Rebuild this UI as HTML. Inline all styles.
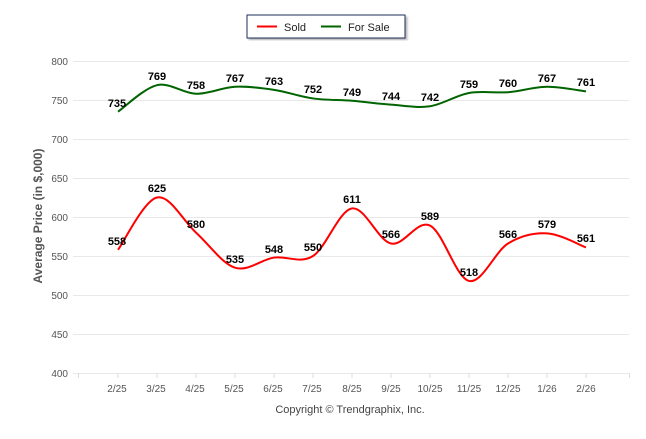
<!DOCTYPE html>
<html><head><meta charset="utf-8"><style>
body{margin:0;background:#fff;width:646px;height:434px;overflow:hidden}
svg{font-family:"Liberation Sans",Arial,sans-serif}
.t{font-size:10px;fill:#555;text-anchor:end}
.x{font-size:10px;fill:#555;text-anchor:middle}
.l{font-size:11px;font-weight:bold;fill:#000;text-anchor:middle}
</style></head><body>
<svg width="646" height="434" viewBox="0 0 646 434">
<defs><filter id="sh"><feDropShadow dx="2" dy="2" stdDeviation="1" flood-color="#888" flood-opacity="0.6"/></filter></defs>
<rect x="247" y="15" width="158" height="23" fill="#fff" stroke="#1f2f5a" stroke-width="1" filter="url(#sh)"/>
<line x1="257" y1="26.5" x2="277" y2="26.5" stroke="#f00" stroke-width="2"/>
<text x="284" y="31" font-size="11" fill="#222">Sold</text>
<line x1="321" y1="26.5" x2="341" y2="26.5" stroke="#006400" stroke-width="2"/>
<text x="348" y="31" font-size="11" fill="#222">For Sale</text>
<g stroke="#e8e8e8" stroke-width="1">
<line x1="73" y1="61.5" x2="629" y2="61.5"/><line x1="73" y1="100.5" x2="629" y2="100.5"/>
<line x1="73" y1="139.5" x2="629" y2="139.5"/><line x1="73" y1="178.5" x2="629" y2="178.5"/>
<line x1="73" y1="217.5" x2="629" y2="217.5"/><line x1="73" y1="256.5" x2="629" y2="256.5"/>
<line x1="73" y1="295.5" x2="629" y2="295.5"/><line x1="73" y1="334.5" x2="629" y2="334.5"/>
<line x1="73" y1="373.5" x2="629" y2="373.5"/>
</g>
<g stroke="#ddd"><line x1="78.5" y1="373" x2="78.5" y2="378"/><line x1="629.5" y1="373" x2="629.5" y2="378"/>
<line x1="118" y1="373" x2="118" y2="378"/><line x1="157" y1="373" x2="157" y2="378"/><line x1="196" y1="373" x2="196" y2="378"/><line x1="235" y1="373" x2="235" y2="378"/><line x1="274" y1="373" x2="274" y2="378"/><line x1="313" y1="373" x2="313" y2="378"/><line x1="352" y1="373" x2="352" y2="378"/><line x1="391" y1="373" x2="391" y2="378"/><line x1="430" y1="373" x2="430" y2="378"/><line x1="469" y1="373" x2="469" y2="378"/><line x1="508" y1="373" x2="508" y2="378"/><line x1="547" y1="373" x2="547" y2="378"/><line x1="586" y1="373" x2="586" y2="378"/></g>
<text class="t" x="68" y="65">800</text><text class="t" x="68" y="104">750</text><text class="t" x="68" y="143">700</text><text class="t" x="68" y="182">650</text><text class="t" x="68" y="221">600</text><text class="t" x="68" y="260">550</text><text class="t" x="68" y="299">500</text><text class="t" x="68" y="338">450</text><text class="t" x="68" y="377">400</text>
<text class="x" x="117" y="392">2/25</text><text class="x" x="156" y="392">3/25</text><text class="x" x="195" y="392">4/25</text><text class="x" x="234" y="392">5/25</text><text class="x" x="273" y="392">6/25</text><text class="x" x="312" y="392">7/25</text><text class="x" x="352" y="392">8/25</text><text class="x" x="391" y="392">9/25</text><text class="x" x="430" y="392">10/25</text><text class="x" x="469" y="392">11/25</text><text class="x" x="508" y="392">12/25</text><text class="x" x="547" y="392">1/26</text><text class="x" x="586" y="392">2/26</text>
<text x="350" y="413" font-size="11" fill="#444" text-anchor="middle">Copyright © Trendgraphix, Inc.</text>
<text transform="translate(42,216) rotate(-90)" font-size="12" font-weight="bold" fill="#555" text-anchor="middle">Average Price (in $,000)</text>
<path id="p1" fill="none" stroke="#006400" stroke-width="2"/>
<path id="p2" fill="none" stroke="#f00" stroke-width="2"/>
<g class="l">
<text x="117" y="107">735</text><text x="157" y="80">769</text><text x="196" y="89">758</text><text x="235" y="82">767</text><text x="274" y="85">763</text><text x="313" y="93">752</text><text x="352" y="96">749</text><text x="391" y="100">744</text><text x="430" y="101">742</text><text x="469" y="88">759</text><text x="508" y="87">760</text><text x="547" y="82">767</text><text x="586" y="86">761</text>
<text x="117" y="245">558</text><text x="157" y="192">625</text><text x="196" y="228">580</text><text x="235" y="263">535</text><text x="274" y="253">548</text><text x="313" y="251">550</text><text x="352" y="203">611</text><text x="391" y="238">566</text><text x="430" y="220">589</text><text x="469" y="276">518</text><text x="508" y="238">566</text><text x="547" y="228">579</text><text x="586" y="242">561</text>
</g>
</svg>
<script>
function y(v){return 373-(v-400)*0.78}
function path(d){var p=d.map(function(v,i){return [118+39*i,y(v)]});var s="M"+p[0][0]+","+p[0][1];
for(var i=0;i<p.length-1;i++){var p0=p[i-1]||p[i],p1=p[i],p2=p[i+1],p3=p[i+2]||p2;
var c1=[p1[0]+(p2[0]-p0[0])/6,p1[1]+(p2[1]-p0[1])/6],c2=[p2[0]-(p3[0]-p1[0])/6,p2[1]-(p3[1]-p1[1])/6];
s+="C"+c1+" "+c2+" "+p2;}return s}
document.getElementById("p1").setAttribute("d",path([735,769,758,767,763,752,749,744,742,759,760,767,761]));
document.getElementById("p2").setAttribute("d",path([558,625,580,535,548,550,611,566,589,518,566,579,561]));
</script>
</body></html>
